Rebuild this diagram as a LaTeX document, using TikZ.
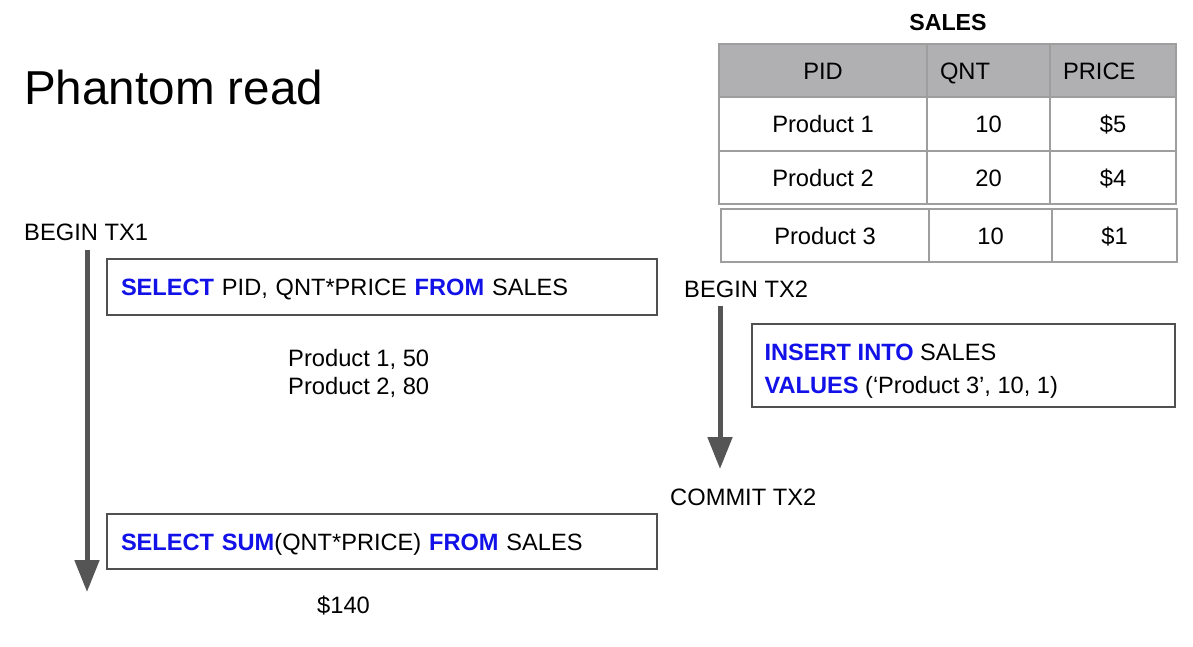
\documentclass[tikz,border=0pt]{standalone}
\usepackage{fontspec}
\setmainfont{Liberation Sans}
\usetikzlibrary{arrows.meta}
\definecolor{kwblue}{RGB}{18,18,232}
\definecolor{gridgrey}{RGB}{158,158,158}
\definecolor{headgrey}{RGB}{176,175,178}
\definecolor{boxgrey}{RGB}{80,80,80}
\definecolor{arrowgrey}{RGB}{85,85,85}
\newcommand\kw[1]{\textcolor{kwblue}{\textbf{#1}}}
\begin{document}
\begin{tikzpicture}[x=1pt,y=-1pt,
  txt/.style={font=\fontsize{23.7}{28}\selectfont, inner sep=0pt},
  sqlbox/.style={draw=boxgrey, line width=1.2pt, font=\fontsize{23.6}{28}\selectfont,
    inner xsep=14pt, inner ysep=0pt, align=left, text height=17pt, text depth=0pt},
  cell/.style={draw=gridgrey, line width=1.3pt, font=\fontsize{23.7}{28}\selectfont,
    inner sep=0pt, text height=17pt, text depth=0pt, align=center},
  lcell/.style={cell, align=left, inner xsep=13pt},
  flow/.style={draw=arrowgrey, line width=5pt, -{Triangle[width=24pt,length=32pt]}, arrowgrey}
]
\useasboundingbox (0,0) rectangle (1193,646);
\fill[white] (0,0) rectangle (1193,646);

% title
\node[txt, anchor=base west, font=\fontsize{47.6}{52}\selectfont] (title) at (24,104) {Phantom read};

% table caption
\node[txt, anchor=base, font=\fontsize{23.2}{28}\bfseries] (cap) at (948,30.5) {SALES};

% table header
\node[cell, fill=headgrey, minimum width=208pt, minimum height=53pt] (h1) at (823,70.5) {PID};
\node[lcell, fill=headgrey, text width=97pt, minimum height=53pt] (h2) at (988.5,70.5) {QNT};
\node[lcell, fill=headgrey, text width=100pt, minimum height=53pt] (h3) at (1113,70.5) {PRICE};
% rows
\node[cell, minimum width=208pt, minimum height=54pt] (a1) at (823,124) {Product 1};
\node[cell, minimum width=123pt, minimum height=54pt] (a2) at (988.5,124) {10};
\node[cell, minimum width=126pt, minimum height=54pt] (a3) at (1113,124) {\$5};
\node[cell, minimum width=208pt, minimum height=53pt] (b1) at (823,177.5) {Product 2};
\node[cell, minimum width=123pt, minimum height=53pt] (b2) at (988.5,177.5) {20};
\node[cell, minimum width=126pt, minimum height=53pt] (b3) at (1113,177.5) {\$4};
% inserted row
\node[cell, minimum width=208pt, minimum height=53pt] (c1) at (825,235.5) {Product 3};
\node[cell, minimum width=123pt, minimum height=53pt] (c2) at (990.5,235.5) {10};
\node[cell, minimum width=125pt, minimum height=53pt] (c3) at (1114.5,235.5) {\$1};

% transaction 1
\node[txt, anchor=base west] (begin1) at (24,240) {BEGIN TX1};
\coordinate (t1top) at (87,250);
\coordinate (t1end) at (87,592);
\draw[flow] (t1top) -- (t1end);

\node[sqlbox, text width=522pt, minimum height=56pt] (q1) at (382,287)
  {\kw{SELECT} PID, QNT*PRICE \kw{FROM} SALES};
\node[txt, anchor=base west] (r1) at (288,366.5) {Product 1, 50};
\node[txt, anchor=base west] (r2) at (288,394.5) {Product 2, 80};

\node[sqlbox, text width=522pt, minimum height=55pt] (q2) at (382,541.5)
  {\kw{SELECT} \kw{SUM}(QNT*PRICE) \kw{FROM} SALES};
\node[txt, anchor=base west] (sum) at (317,613.5) {\$140};

% transaction 2
\node[txt, anchor=base west] (begin2) at (684,297.5) {BEGIN TX2};
\coordinate (t2top) at (720,306);
\coordinate (t2end) at (720,469);
\draw[flow] (t2top) -- (t2end);
\node[draw=boxgrey, line width=1.2pt, minimum width=423pt, minimum height=83pt, inner sep=0pt]
  (ins) at (963.5,365.5) {};
\node[txt, anchor=base west, font=\fontsize{23.6}{28}\selectfont] (ins1) at ([xshift=13pt]ins.west |- 0,360.5)
  {\kw{INSERT INTO} SALES};
\node[txt, anchor=base west, font=\fontsize{23.6}{28}\selectfont] (ins2) at ([xshift=13pt]ins.west |- 0,393.5)
  {\kw{VALUES} (‘Product 3’, 10, 1)};
\node[txt, anchor=base west] (commit2) at (670,505.5) {COMMIT TX2};
\end{tikzpicture}
\end{document}
